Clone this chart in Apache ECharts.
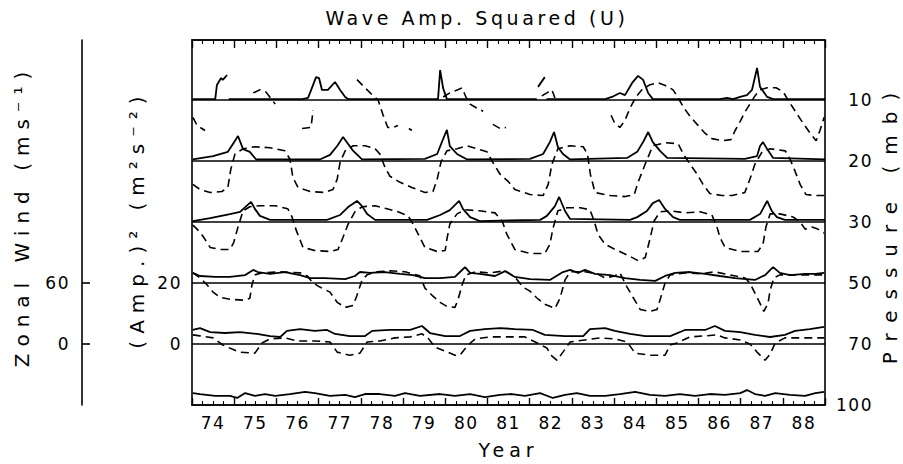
<!DOCTYPE html>
<html><head><meta charset="utf-8">
<script src="https://cdn.jsdelivr.net/npm/echarts@6/dist/echarts.min.js"></script>
<style>html,body{margin:0;padding:0;background:#fff}#c{width:903px;height:464px}</style>
</head><body><div id="c"></div>
<script>
// ---------------- data ----------------
const yearLabels = ['74','75','76','77','78','79','80','81','82','83','84','85','86','87','88'];
const pressureLabels = ['100','70','50','30','20','10'];   // bottom to top
const ampTickValues = [0, 20];
const windTickValues = [0, 60];

// wave amplitude squared (m^2 s^-2), [year, value]
const amp10 = [[74.02,0.3],[74.55,0.3],[74.59,4.9],[74.69,7.2],[74.73,6.6],[74.83,8.2],[74.85,null],[74.87,0.3],[76.61,0.3],[76.75,0.7],[76.84,3.9],[76.94,7.5],[77.01,7.2],[77.08,3.3],[77.22,3.3],[77.39,5.9],[77.51,3.3],[77.63,1.0],[77.70,0.3],[79.83,0.3],[79.88,9.8],[79.95,3.9],[80.04,0.3],[82.17,0.3],[82.18,null],[82.20,4.3],[82.36,7.5],[82.38,null],[82.40,0.3],[83.79,0.3],[83.95,1.0],[84.14,2.3],[84.26,1.6],[84.43,5.6],[84.57,7.9],[84.69,6.6],[84.81,2.3],[84.92,0.3],[86.51,0.3],[86.68,0.7],[86.82,0.3],[86.99,1.0],[87.15,1.6],[87.27,3.3],[87.39,10.5],[87.46,4.3],[87.63,1.0],[87.77,0.3],[89.00,0.3]];
const amp20 = [[74.02,0.5],[74.50,1.6],[74.85,3.0],[74.97,5.6],[75.09,8.2],[75.21,3.9],[75.37,3.0],[75.52,0.5],[77.03,0.5],[77.27,2.0],[77.44,4.9],[77.58,7.9],[77.70,5.6],[77.82,3.3],[78.03,0.5],[79.52,0.7],[79.81,2.3],[79.95,7.2],[80.04,10.2],[80.11,4.9],[80.28,2.3],[80.52,0.5],[82.01,0.7],[82.32,2.3],[82.48,6.2],[82.58,9.5],[82.67,4.6],[82.79,2.3],[82.96,0.5],[84.31,1.0],[84.55,3.0],[84.69,6.2],[84.81,9.5],[84.92,6.2],[85.09,3.3],[85.26,1.0],[87.10,0.7],[87.39,1.6],[87.46,4.9],[87.53,6.2],[87.63,3.9],[87.77,1.0],[89.00,0.5]];
const amp30 = [[74.02,0.3],[74.43,1.3],[74.90,2.6],[75.14,3.3],[75.26,4.9],[75.40,6.6],[75.49,4.3],[75.61,2.0],[75.85,0.7],[77.20,0.7],[77.51,2.3],[77.70,4.9],[77.91,6.9],[78.03,5.2],[78.15,2.6],[78.34,0.7],[79.57,0.7],[79.88,2.3],[80.11,3.9],[80.33,6.9],[80.42,4.3],[80.59,1.6],[80.82,0.3],[82.25,0.7],[82.41,2.0],[82.60,5.2],[82.70,8.2],[82.84,3.6],[82.96,1.0],[84.38,0.7],[84.55,1.6],[84.78,3.6],[84.92,6.2],[85.07,7.2],[85.21,4.3],[85.40,1.6],[85.56,0.7],[87.22,0.7],[87.46,2.6],[87.63,6.9],[87.74,3.6],[87.86,1.6],[88.05,0.7],[89.00,0.7]];
const amp50 = [[74.02,3.3],[74.19,2.3],[74.55,2.0],[74.90,2.0],[75.26,2.6],[75.45,4.3],[75.56,3.6],[75.85,3.0],[76.20,3.6],[76.56,2.6],[76.80,1.6],[77.15,1.6],[77.63,1.3],[77.86,2.3],[77.98,3.6],[78.22,3.3],[78.57,3.6],[78.93,3.0],[79.24,2.6],[79.52,1.6],[79.88,1.6],[80.23,2.0],[80.35,3.6],[80.47,5.2],[80.59,3.3],[80.82,3.0],[81.18,2.3],[81.42,3.9],[81.65,2.0],[82.01,1.3],[82.48,1.0],[82.79,3.6],[82.96,4.3],[83.15,3.3],[83.31,4.3],[83.55,3.0],[83.91,2.6],[84.26,1.6],[84.62,1.0],[84.98,0.7],[85.21,2.3],[85.45,3.3],[85.80,3.6],[86.16,3.0],[86.51,2.3],[86.87,1.6],[87.34,1.0],[87.58,2.6],[87.77,5.2],[87.93,3.3],[88.17,2.6],[88.53,3.0],[88.77,3.0],[88.98,3.3]];
const amp70 = [[74.02,4.6],[74.19,5.2],[74.43,3.9],[74.78,3.6],[75.14,3.9],[75.54,3.3],[75.85,2.6],[76.09,2.3],[76.25,4.3],[76.56,4.9],[76.91,4.3],[77.20,4.6],[77.39,3.3],[77.74,2.6],[78.10,2.6],[78.27,4.3],[78.69,4.6],[79.17,4.6],[79.45,5.9],[79.64,3.6],[80.00,2.6],[80.35,2.6],[80.59,4.3],[80.94,4.9],[81.30,5.2],[81.65,4.9],[82.08,4.6],[82.36,3.0],[82.84,2.6],[83.27,2.6],[83.43,4.9],[83.79,5.2],[84.02,4.3],[84.38,3.3],[84.74,2.6],[85.33,2.6],[85.68,4.6],[86.16,4.6],[86.39,5.9],[86.63,4.3],[86.99,3.9],[87.34,3.0],[87.70,2.3],[88.05,3.0],[88.29,4.3],[88.64,4.9],[88.98,5.6]];
const amp100 = [[74.02,3.9],[74.19,3.6],[74.55,3.0],[74.90,3.0],[75.07,2.3],[75.26,3.9],[75.49,3.0],[75.73,3.6],[75.97,3.0],[76.32,3.6],[76.68,4.3],[76.91,3.9],[77.27,3.0],[77.63,3.3],[77.86,2.6],[78.10,3.6],[78.45,3.6],[78.81,3.0],[79.05,3.9],[79.40,3.0],[79.88,3.6],[80.23,3.0],[80.59,3.6],[80.94,2.6],[81.30,3.3],[81.58,3.6],[81.89,3.0],[82.25,3.9],[82.55,2.3],[82.84,3.3],[83.12,3.9],[83.43,3.0],[83.79,3.0],[84.14,3.6],[84.50,4.3],[84.85,3.3],[85.21,3.0],[85.56,3.6],[85.92,3.0],[86.27,3.6],[86.63,3.3],[86.99,3.9],[87.15,4.9],[87.34,3.6],[87.58,3.0],[87.82,3.9],[88.17,3.3],[88.53,3.0],[88.77,3.9],[88.98,4.3]];

// zonal wind (m s^-1), [year, value]; null = missing
const wind10 = [[74.02,-17],[74.12,-25],[74.31,-30],[74.33,null],[75.45,7],[75.61,10],[75.75,8],[75.90,0],[75.97,-4],[76.00,null],[76.61,-28],[76.82,-27],[76.87,-10],[76.90,null],[77.91,20],[78.10,12],[78.27,5],[78.41,0],[78.53,-15],[78.64,-27],[78.76,-27],[78.88,-25],[78.95,null],[79.14,-28],[79.21,-30],[79.25,null],[79.95,3],[80.11,7],[80.30,10],[80.40,12],[80.49,3],[80.59,-4],[80.75,-8],[80.90,-11],[80.95,null],[81.13,-24],[81.30,-28],[81.44,-27],[81.50,null],[82.29,4],[82.41,7],[82.53,10],[82.60,2],[82.65,null],[83.93,-15],[84.02,-23],[84.14,-27],[84.26,-20],[84.38,-8],[84.52,3],[84.66,10],[84.85,15],[85.04,17],[85.23,14],[85.40,10],[85.52,2],[85.66,-8],[85.80,-16],[85.97,-24],[86.14,-32],[86.32,-38],[86.56,-40],[86.77,-39],[86.87,-30],[86.99,-21],[87.10,-12],[87.22,-4],[87.34,4],[87.46,10],[87.63,12],[87.84,12],[88.01,8],[88.17,-3],[88.34,-14],[88.50,-24],[88.67,-34],[88.79,-40],[88.88,-30],[88.98,-17]];
const wind20 = [[74.02,-23],[74.19,-28],[74.43,-31],[74.71,-30],[74.85,-26],[74.92,-8],[75.02,7],[75.21,12],[75.49,14],[75.85,13],[76.20,10],[76.32,2],[76.39,-16],[76.51,-26],[76.80,-30],[77.15,-31],[77.34,-28],[77.44,-18],[77.51,-1],[77.63,10],[77.82,15],[78.10,15],[78.34,12],[78.45,7],[78.57,-6],[78.69,-15],[78.93,-21],[79.21,-26],[79.52,-31],[79.71,-30],[79.81,-18],[79.90,-1],[80.04,10],[80.28,12],[80.52,15],[80.75,12],[80.99,9],[81.11,0],[81.30,-13],[81.49,-20],[81.65,-28],[82.01,-33],[82.32,-34],[82.44,-23],[82.53,-3],[82.67,12],[82.96,15],[83.27,14],[83.37,7],[83.44,-13],[83.55,-31],[83.91,-34],[84.26,-35],[84.48,-33],[84.57,-21],[84.74,-3],[84.92,15],[85.21,18],[85.52,17],[85.64,7],[85.80,-3],[85.97,-13],[86.11,-23],[86.27,-32],[86.56,-34],[86.80,-34],[87.10,-31],[87.22,-18],[87.34,-3],[87.51,9],[87.70,12],[88.06,10],[88.17,2],[88.29,-10],[88.41,-23],[88.55,-33],[88.77,-34],[88.98,-34]];
const wind30 = [[74.02,-3],[74.12,-7],[74.26,-14],[74.43,-25],[74.66,-27],[74.90,-27],[74.99,-20],[75.09,-5],[75.21,11],[75.37,15],[75.61,16],[75.97,16],[76.27,13],[76.37,5],[76.46,-7],[76.63,-25],[76.91,-28],[77.27,-29],[77.46,-27],[77.58,-15],[77.70,-2],[77.86,10],[78.03,15],[78.34,16],[78.62,13],[78.88,10],[79.12,6],[79.24,-2],[79.36,-12],[79.52,-25],[79.81,-29],[80.00,-28],[80.04,-17],[80.11,-2],[80.28,8],[80.47,12],[80.82,11],[81.18,9],[81.35,1],[81.46,-12],[81.65,-27],[82.01,-31],[82.36,-31],[82.48,-22],[82.55,-7],[82.67,11],[82.89,14],[83.20,14],[83.43,12],[83.53,1],[83.62,-12],[83.79,-22],[84.03,-27],[84.34,-33],[84.57,-38],[84.74,-35],[84.85,-17],[84.95,1],[85.09,10],[85.33,11],[85.68,9],[86.04,10],[86.32,7],[86.44,-5],[86.51,-15],[86.63,-25],[86.99,-29],[87.41,-29],[87.53,-22],[87.60,-5],[87.70,8],[87.93,8],[88.24,5],[88.41,0],[88.53,-7],[88.69,-5],[88.83,-7],[88.98,-11]];
const wind50 = [[74.02,10],[74.19,5],[74.36,-2],[74.50,-9],[74.66,-14],[74.90,-16],[75.26,-17],[75.37,-15],[75.42,-2],[75.49,8],[75.66,10],[76.09,11],[76.56,10],[76.73,7],[76.87,0],[77.03,-4],[77.27,-9],[77.44,-19],[77.63,-24],[77.82,-22],[77.91,-12],[78.03,3],[78.15,8],[78.34,11],[78.69,12],[79.05,11],[79.40,7],[79.52,-5],[79.71,-13],[79.88,-19],[80.04,-23],[80.23,-24],[80.30,-17],[80.40,-2],[80.49,8],[80.71,11],[81.06,10],[81.42,12],[81.65,6],[81.84,-4],[82.01,-8],[82.18,-15],[82.36,-21],[82.60,-25],[82.72,-15],[82.84,3],[82.96,11],[83.31,11],[83.60,9],[83.79,5],[84.02,7],[84.14,10],[84.31,-4],[84.45,-14],[84.62,-26],[84.85,-28],[85.02,-26],[85.11,-14],[85.21,0],[85.33,8],[85.68,10],[86.04,9],[86.39,11],[86.75,8],[87.10,5],[87.22,0],[87.34,-10],[87.46,-20],[87.55,-28],[87.65,-20],[87.70,-7],[87.79,5],[87.93,8],[88.29,8],[88.64,8],[88.98,8]];
const wind70 = [[74.02,9],[74.19,8],[74.50,6],[74.73,-1],[74.95,-5],[75.14,-8],[75.49,-9],[75.66,1],[75.85,5],[76.20,6],[76.49,3],[76.91,3],[77.27,2],[77.44,-8],[77.74,-11],[77.98,-9],[78.15,2],[78.45,3],[78.81,6],[79.17,7],[79.45,10],[79.59,6],[79.76,-3],[80.00,-7],[80.23,-11],[80.35,-11],[80.54,-1],[80.71,5],[81.06,7],[81.54,7],[81.89,7],[82.18,1],[82.41,-4],[82.53,-12],[82.65,-16],[82.79,-8],[82.96,2],[83.31,4],[83.67,6],[84.02,5],[84.31,2],[84.50,-9],[84.85,-11],[85.21,-11],[85.33,-1],[85.49,1],[85.80,7],[86.16,8],[86.44,9],[86.63,6],[86.99,4],[87.22,0],[87.39,-8],[87.58,-16],[87.70,-10],[87.82,1],[88.05,6],[88.41,6],[88.98,6]];

// ---------------- layout / style ----------------
const FONT = 'DejaVu Sans';
const GRID = {left:192, right:78, top:40, bottom:59};
const GRID_H = 464 - GRID.top - GRID.bottom;   // 365
const BAND_PX = 61;                              // vertical distance between levels
const BANDS = GRID_H / BAND_PX;
const AMP_PER_BAND = 20, WIND_PER_BAND = 60;

const levels = [
  {amp: amp100, wind: null},
  {amp: amp70, wind: wind70},
  {amp: amp50, wind: wind50},
  {amp: amp30, wind: wind30},
  {amp: amp20, wind: wind20},
  {amp: amp10, wind: wind10}
];

const toData = arr => arr.map(([t, v]) => [t, v === null ? '-' : v]);
const hiddenY = (min, max) => ({type:'value', show:false, position:'left', min, max, splitLine:{show:false}, axisLine:{onZero:false}});

const yAxis = [{
  type:'value', position:'right', min:0, max:BANDS,
  axisLine:{show:false}, axisTick:{show:false}, splitLine:{show:false},
  axisLabel:{customValues:[0,1,2,3,4,5], formatter:v => pressureLabels[Math.round(v)],
    align:'right', margin:48, padding:[5,0,0,0], color:'#000', fontSize:17, fontFamily:FONT}
}];
const series = [];
levels.forEach((lv, k) => {
  const ampAxis = hiddenY(-AMP_PER_BAND*k, AMP_PER_BAND*(BANDS-k));
  const windAxis = hiddenY(-WIND_PER_BAND*k, WIND_PER_BAND*(BANDS-k));
  if (k === 1) {
    Object.assign(ampAxis, {show:true, offset:0,
      axisLine:{show:false, onZero:false}, axisTick:{show:false},
      axisLabel:{customValues:ampTickValues, margin:10, color:'#000', fontSize:17, fontFamily:FONT}});
    Object.assign(windAxis, {show:true, offset:110,
      axisLine:{show:true, onZero:false, lineStyle:{color:'#000', width:1.6}},
      axisTick:{show:true, inside:true, length:8, customValues:windTickValues, lineStyle:{color:'#000', width:1.6}},
      axisLabel:{customValues:windTickValues, margin:12, color:'#000', fontSize:17, fontFamily:FONT}});
  }
  const ai = yAxis.length; yAxis.push(ampAxis);
  const wi = yAxis.length; yAxis.push(windAxis);
  const s = {type:'line', yAxisIndex:ai, data:toData(lv.amp), showSymbol:false, symbol:'none',
    connectNulls:false, lineStyle:{color:'#000', width:1.8}, z:3};
  if (k > 0) {
    s.markLine = {silent:true, symbol:['none','none'], label:{show:false},
      lineStyle:{color:'#000', width:1.5, type:'solid'}, data:[{yAxis:0}]};
  }
  series.push(s);
  if (lv.wind) {
    series.push({type:'line', yAxisIndex:wi, data:toData(lv.wind), showSymbol:false, symbol:'none',
      connectNulls:false, lineStyle:{color:'#000', width:1.6, type:[8,5]}, z:2});
  }
});

const xCommon = {type:'value', min:74, max:89, interval:1, splitLine:{show:false}, minorSplitLine:{show:false}};
const option = {
  animation:false,
  backgroundColor:'#fff',
  title:{text:'Wave Amp. Squared (U)', left:472, top:3, textAlign:'center',
    textStyle:{fontFamily:FONT, fontSize:19, fontWeight:'normal', color:'#000'}},
  grid:Object.assign({show:true, borderColor:'#000', borderWidth:1.6, containLabel:false}, GRID),
  xAxis:[
    Object.assign({}, xCommon, {position:'bottom',
      axisLine:{show:true, onZero:false, lineStyle:{color:'#000', width:1.6}},
      axisTick:{show:true, inside:true, length:7, lineStyle:{color:'#000', width:1.4}},
      minorTick:{show:true, splitNumber:4, length:4, lineStyle:{color:'#000', width:1.1}},
      axisLabel:{customValues:yearLabels.map(s => +s + 0.5), formatter:v => yearLabels[Math.floor(v) - 74],
        margin:9, color:'#000', fontSize:17, fontFamily:FONT},
      name:'Year', nameLocation:'middle', nameGap:35,
      nameTextStyle:{color:'#000', fontSize:19, fontFamily:FONT}}),
    Object.assign({}, xCommon, {position:'top',
      axisLine:{show:true, onZero:false, lineStyle:{color:'#000', width:1.6}},
      axisTick:{show:true, inside:true, length:8, lineStyle:{color:'#000', width:1.4}},
      minorTick:{show:true, splitNumber:4, length:4, lineStyle:{color:'#000', width:1.1}},
      axisLabel:{show:false}})
  ],
  yAxis:yAxis,
  series:series,
  graphic:[
    {type:'text', x:22, y:216, rotation:Math.PI/2,
      style:{text:'Zonal Wind (ms⁻¹)', font:'20px "DejaVu Sans"', fill:'#000', align:'center', verticalAlign:'middle'}},
    {type:'text', x:137, y:219, rotation:Math.PI/2,
      style:{text:'(Amp.)² (m²s⁻²)', font:'20px "DejaVu Sans"', fill:'#000', align:'center', verticalAlign:'middle'}},
    {type:'text', x:890, y:223, rotation:Math.PI/2,
      style:{text:'Pressure (mb)', font:'20px "DejaVu Sans"', fill:'#000', align:'center', verticalAlign:'middle'}}
  ]
};

const chart = echarts.init(document.getElementById('c'), null, {renderer:'svg'});
chart.setOption(option);

const letterSpacing = {
  'Wave Amp. Squared (U)': '3.6px',
  'Zonal Wind (ms⁻¹)': '7px',
  '(Amp.)² (m²s⁻²)': '7px',
  'Pressure (mb)': '11px',
  'Year': '5px'
};
function spaceLetters() {
  document.querySelectorAll('#c text').forEach(el => {
    const s = (el.textContent || '').trim();
    el.setAttribute('letter-spacing', letterSpacing[s] || '1.5px');
  });
}
spaceLetters();
chart.on('finished', spaceLetters);
</script>
</body></html>
